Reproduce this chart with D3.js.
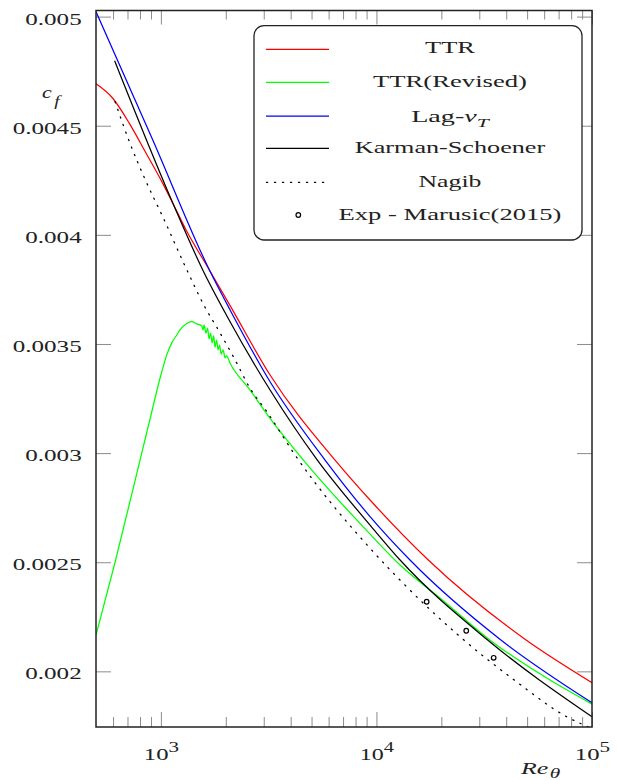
<!DOCTYPE html>
<html><head><meta charset="utf-8">
<script src="https://cdn.jsdelivr.net/npm/d3@7"></script>
<style>
html,body{margin:0;padding:0;background:#fff;}
svg{display:block;}
text{font-family:"Liberation Serif",serif;fill:#222;}
</style></head><body>
<svg id="c" width="617" height="780"></svg>
<script>
// ---------------- data ----------------
const ttrRe = [500, 598, 714, 854, 1020, 1136, 1309, 1679, 2094, 3210, 6427, 9340, 17400, 48900, 100000];
const ttrCf = [0.004692, 0.004626, 0.004511, 0.004374, 0.004236, 0.004145, 0.004022, 0.003839, 0.003676, 0.003358, 0.002968, 0.002785, 0.00251, 0.002147, 0.001948];

const ttrRevRe = [500, 613, 815, 891, 991.5, 1065, 1123, 1185, 1228, 1319, 1391, 1467, 1548, 1569, 1586, 1620, 1647, 1673, 1701, 1728, 1756, 1784, 1813, 1842, 1872, 1903, 1944, 1985, 2017, 2094, 2592, 3210, 4581, 9340, 12870, 19720, 33650, 63870, 100000];
const ttrRevCf = [0.002166, 0.0025, 0.003, 0.003157, 0.003344, 0.00345, 0.003505, 0.003541, 0.003566, 0.003594, 0.003602, 0.003592, 0.003582, 0.003564, 0.003587, 0.00355, 0.003573, 0.003523, 0.00355, 0.003505, 0.003537, 0.003486, 0.003518, 0.003473, 0.003495, 0.003454, 0.003473, 0.003436, 0.003445, 0.003412, 0.003289, 0.003159, 0.002968, 0.002629, 0.002487, 0.002336, 0.002143, 0.00196, 0.00185];

const lagRe = [500, 917, 1679, 2094, 3210, 5776, 9340, 14310, 37410, 100000];
const lagCf = [0.005023, 0.004435, 0.003839, 0.003656, 0.003327, 0.002968, 0.002709, 0.00251, 0.002147, 0.001856];

const ksRe = [610, 1155, 1564, 2094, 3210, 5320, 9340, 12870, 32480, 100000];
const ksCf = [0.004798, 0.004129, 0.003839, 0.003602, 0.003289, 0.002968, 0.00267, 0.00251, 0.002147, 0.001792];

const nagibRe = [613, 714, 854, 1020, 1309, 1603, 1848, 2209, 2592, 3099, 4193, 9340, 12870, 24400, 44690, 76300, 100000];
const nagibCf = [0.00461, 0.004427, 0.004244, 0.004083, 0.003847, 0.003668, 0.003564, 0.003427, 0.003297, 0.00319, 0.002991, 0.002564, 0.002418, 0.002159, 0.001952, 0.001792, 0.001738];

const expRe = [17100, 26100, 34980];
const expCf = [0.002319, 0.002186, 0.002062];

const xMajor = [1e3, 1e4, 1e5];
const xMinor = [600, 700, 800, 900, 2000, 3000, 4000, 5000, 6000, 7000, 8000, 9000,
                20000, 30000, 40000, 50000, 60000, 70000, 80000, 90000];
const yTicks = [0.002, 0.0025, 0.003, 0.0035, 0.004, 0.0045, 0.005];
const yLabels = ["0.002", "0.0025", "0.003", "0.0035", "0.004", "0.0045", "0.005"];

const legendNames = ["TTR", "TTR(Revised)", "Lag-\u03BD_T", "Karman-Schoener", "Nagib", "Exp - Marusic(2015)"];
const legendColors = ["#ff0000", "#00ff00", "#0000ff", "#000000", "#000000", "#000000"];

// ---------------- layout ----------------
const L = 96, R = 592, T = 10.5, B = 727;
const x = d3.scaleLog().domain([500, 1e5]).range([L, R]);
const y = d3.scaleLinear().domain([0.001745, 0.005028]).range([B, T]);
const svg = d3.select("#c");
const tickColor = "#8c8c8c";

svg.append("defs").append("clipPath").attr("id", "clip")
  .append("rect").attr("x", L).attr("y", T).attr("width", R - L).attr("height", B - T);

function styleAxis(g) {
  g.select(".domain").remove();
  g.selectAll(".tick line").attr("stroke", tickColor).attr("stroke-width", 1);
}

// x ticks bottom/top
svg.append("g").attr("transform", `translate(0,${B})`)
  .call(d3.axisBottom(x).tickValues(xMinor).tickSize(-10).tickFormat("")).call(styleAxis);
const xb = svg.append("g").attr("transform", `translate(0,${B})`)
  .call(d3.axisBottom(x).tickValues(xMajor).tickSize(-15).tickFormat("")).call(styleAxis);
svg.append("g").attr("transform", `translate(0,${T})`)
  .call(d3.axisTop(x).tickValues(xMinor).tickSize(-9).tickFormat("")).call(styleAxis);
svg.append("g").attr("transform", `translate(0,${T})`)
  .call(d3.axisTop(x).tickValues(xMajor).tickSize(-14).tickFormat("")).call(styleAxis);

// y ticks left/right
const yl = svg.append("g").attr("transform", `translate(${L},0)`)
  .call(d3.axisLeft(y).tickValues(yTicks).tickSize(-15).tickFormat((d, i) => yLabels[i])).call(styleAxis);
svg.append("g").attr("transform", `translate(${R},0)`)
  .call(d3.axisRight(y).tickValues(yTicks).tickSize(-15).tickFormat("")).call(styleAxis);

// y tick labels, stretched horizontally like the reference
yl.selectAll(".tick text").attr("x", 0).attr("dy", null).attr("y", 7.5)
  .attr("font-size", 17).attr("font-family", "Liberation Serif").attr("fill", "#222")
  .attr("text-anchor", "end");
let refW = 1;
yl.selectAll(".tick text").each(function (d, i) { if (yLabels[i] === "0.0045") refW = this.getBBox().width; });
const sy = 69 / refW;
yl.selectAll(".tick text").attr("transform", `translate(-14.3,0) scale(${sy},1)`);

// x tick labels 10^n
xb.selectAll(".tick text").remove();
xb.selectAll(".tick").each(function (d) {
  const t = d3.select(this).append("text").attr("y", 33).attr("text-anchor", "middle")
    .attr("font-size", 17).attr("fill", "#222");
  t.append("tspan").text("10");
  t.append("tspan").attr("dy", -8).attr("font-size", 14.5).text(Math.round(Math.log10(d)));
  const w = t.node().getBBox().width;
  t.attr("transform", `scale(${35.3 / w},1)`);
});

// ---------------- curves ----------------
const line = d3.line().x(d => x(d[0])).y(d => y(d[1])).curve(d3.curveMonotoneX);
const pairs = (a, b) => a.map((v, i) => [v, b[i]]);
const plot = svg.append("g").attr("clip-path", "url(#clip)");
const curves = [
  [ttrRe, ttrCf, legendColors[0], null],
  [ttrRevRe, ttrRevCf, legendColors[1], null],
  [lagRe, lagCf, legendColors[2], null],
  [ksRe, ksCf, legendColors[3], null],
  [nagibRe, nagibCf, legendColors[4], "1.2 6.8"]
];
curves.forEach(([re, cf, col, dash]) => {
  plot.append("path").attr("d", line(pairs(re, cf))).attr("fill", "none")
    .attr("stroke", col).attr("stroke-width", dash ? 1.3 : 1.25)
    .attr("stroke-dasharray", dash).attr("stroke-linecap", dash ? "round" : "butt");
});
plot.selectAll("circle.exp").data(pairs(expRe, expCf)).join("circle").attr("class", "exp")
  .attr("cx", d => x(d[0])).attr("cy", d => y(d[1])).attr("r", 2.3)
  .attr("fill", "#fff").attr("stroke", "#000").attr("stroke-width", 1.2);

// frame
svg.append("rect").attr("x", L).attr("y", T).attr("width", R - L).attr("height", B - T)
  .attr("fill", "none").attr("stroke", "#222").attr("stroke-width", 1.5);

// ---------------- axis titles ----------------
function stretchText(g, target) {
  const t = g.select("text");
  const w = t.node().getBBox().width;
  t.attr("transform", `scale(${target / w},1)`);
}
const cfG = svg.append("g").attr("transform", "translate(42,98)");
const cfT = cfG.append("text").attr("font-size", 17).attr("font-style", "italic");
cfT.append("tspan").text("c");
cfT.append("tspan").attr("dx", 2).attr("dy", 8).attr("font-size", 15).text("f");
stretchText(cfG, 20);

const reG = svg.append("g").attr("transform", "translate(521,773.5)");
const reT = reG.append("text").attr("font-size", 17).attr("font-style", "italic");
reT.append("tspan").text("Re");
reT.append("tspan").attr("dx", 1).attr("dy", 4).attr("font-size", 14).text("\u03B8");
stretchText(reG, 41);

// ---------------- legend ----------------
const lg = svg.append("g");
lg.append("rect").attr("x", 254).attr("y", 25.7).attr("width", 328).attr("height", 214.3)
  .attr("rx", 10).attr("fill", "#fff").attr("stroke", "#222").attr("stroke-width", 1.3);
const rowY = [49.3, 82.3, 116, 148.3, 182.3, 215];
const baseY = [53.3, 86.7, 121.7, 153.3, 186.7, 220];
const legW = [51, 154, 79, 191, 63, 223];
legendNames.forEach((name, i) => {
  if (i < 4) {
    lg.append("line").attr("x1", 266).attr("x2", 329).attr("y1", rowY[i]).attr("y2", rowY[i])
      .attr("stroke", legendColors[i]).attr("stroke-width", 1.25);
  } else if (i === 4) {
    lg.append("line").attr("x1", 266.5).attr("x2", 329).attr("y1", rowY[i]).attr("y2", rowY[i])
      .attr("stroke", "#000").attr("stroke-width", 1.3).attr("stroke-dasharray", "1.2 6.8")
      .attr("stroke-linecap", "round");
  } else {
    lg.append("circle").attr("cx", 298.3).attr("cy", rowY[i]).attr("r", 2.3)
      .attr("fill", "#fff").attr("stroke", "#000").attr("stroke-width", 1.2);
  }
  const g = lg.append("g").attr("transform", `translate(450,${baseY[i]})`);
  const t = g.append("text").attr("text-anchor", "middle").attr("font-size", 17);
  if (name.includes("_")) {
    const [a, b] = name.split("_");
    t.append("tspan").text(a.slice(0, -1));
    t.append("tspan").attr("font-style", "italic").text(a.slice(-1));
    t.append("tspan").attr("font-style", "italic").attr("font-size", 13).attr("dy", 5).text(b);
  } else {
    t.text(name);
  }
  stretchText(g, legW[i]);
});
</script>
</body></html>
